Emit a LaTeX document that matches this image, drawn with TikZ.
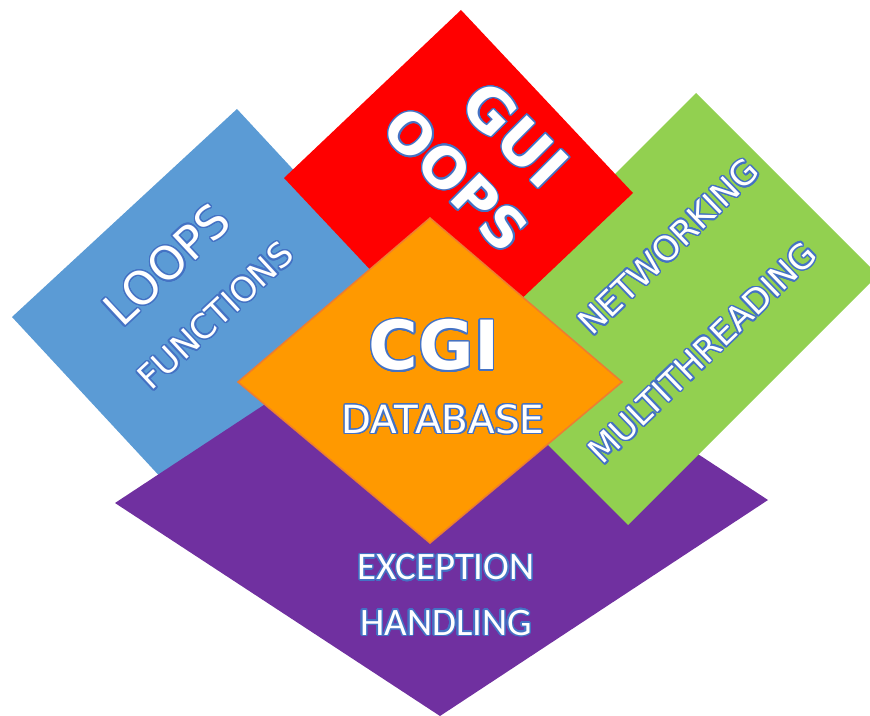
\documentclass[tikz,border=0pt]{standalone}
\usepackage{fontspec}
\setmainfont{DejaVu Sans}
\newfontfamily\narrowfont{Carlito}
\usepackage{contour}
\contourlength{1.4pt}
\contournumber{24}
\usepackage{tikz}
\usetikzlibrary{positioning}

\definecolor{loopblue}{RGB}{91,155,213}
\definecolor{guired}{RGB}{255,0,0}
\definecolor{netgreen}{RGB}{146,208,80}
\definecolor{excpurple}{RGB}{112,48,160}
\definecolor{cgiorange}{RGB}{255,153,0}
\definecolor{cgiedge}{RGB}{237,125,49}
\definecolor{textedge}{RGB}{68,114,196}

\tikzset{
	lbl/.style={text=white,inner sep=0pt},
	small/.style={lbl,font=\fontsize{34}{40}\selectfont},
	big/.style={lbl,font=\fontsize{56}{60}\selectfont\bfseries}
}
\newcommand{\outl}[1]{\contour{textedge}{#1}}

\begin{document}
\begin{tikzpicture}[x=1bp,y=-1bp]
		\useasboundingbox (0,0) rectangle (870,716);
		\clip (0,0) rectangle (870,716);
		
		% tiles, back to front
		\fill[loopblue] (12,317)--(237,109)--(441,329)--(216,537)--cycle;
		\fill[excpurple] (115,503)--(443,287)--(768,500)--(440,716)--cycle;
		\fill[netgreen] (696,93)--(878,275)--(628,525)--(446,343)--cycle;
		\fill[guired] (284,178)--(461,10)--(633,193)--(456,361)--cycle;
		\fill[cgiorange,draw=cgiedge,line width=1.5bp] (430,218)--(622,382)--(430,543)--(238,382)--cycle;
		
		\node[lbl,rotate=43,font=\fontsize{46}{50}\selectfont] (loops) at (167,265) {\outl{LOOPS}};
		\node[small,rotate=43] (functions) at (216,316) {\outl{FUNCTIONS}};
		
		\node[big,font=\fontsize{60}{64}\selectfont\bfseries,rotate=-45] (gui) at (515,135) {\outl{GUI}};
		\node[big,rotate=-45] (oops) at (456,180) {\outl{OOPS}};
		
		\node[small,rotate=44] (networking) at (669,247) {\outl{NETWORKING}};
		\node[small,rotate=44] (multi) at (703,353) {\outl{MULTITHREADING}};
		
		\node[lbl,font=\fontsize{68}{72}\selectfont\bfseries] (cgi) at (434,346) {\outl{CGI}};
		\node[lbl,font=\fontsize{39}{44}\selectfont,below=32bp of cgi,xshift=9bp] (database) {\outl{DATABASE}};
		
		\node[lbl,font=\narrowfont\fontsize{39}{44}\selectfont] (exception) at (446,568) {\outl{EXCEPTION}};
		\node[lbl,font=\narrowfont\fontsize{39}{44}\selectfont,below=28bp of exception] (handling) {\outl{HANDLING}};
	\end{tikzpicture}
\end{document}
